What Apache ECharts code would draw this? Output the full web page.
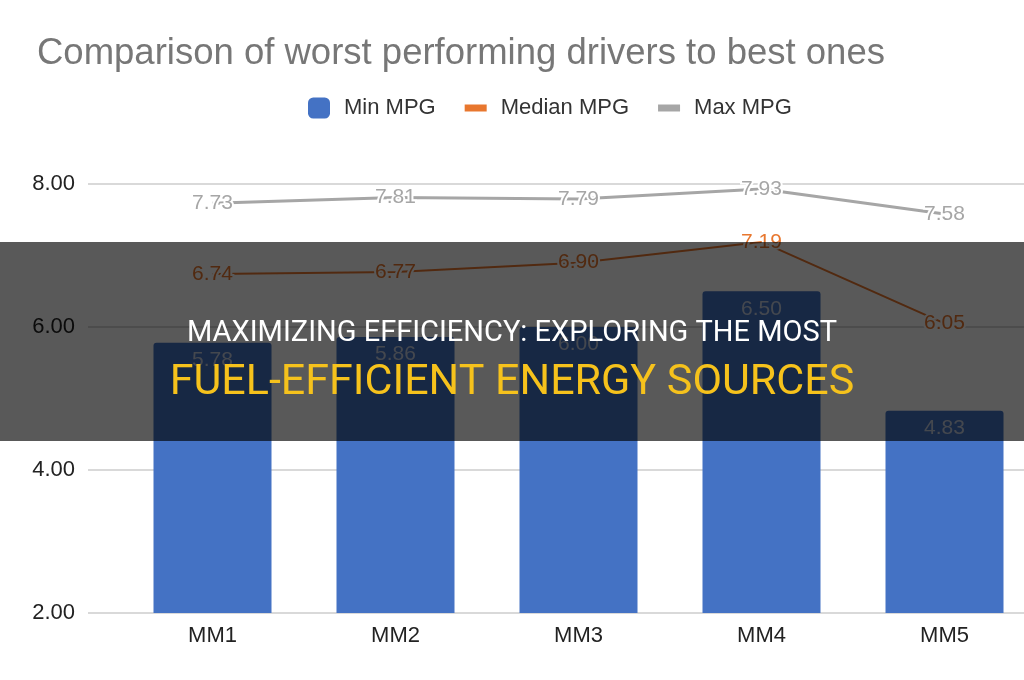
<!DOCTYPE html>
<html>
<head>
<meta charset="utf-8">
<script src="https://cdn.jsdelivr.net/npm/echarts@6/dist/echarts.min.js"></script>
<style>
html, body { margin: 0; padding: 0; background: #fff; }
#chart { width: 1024px; height: 680px; }
</style>
</head>
<body>
<div id="chart"></div>
<script>
(function(){

var categories = ['MM1', 'MM2', 'MM3', 'MM4', 'MM5'];
var minMpg = [5.78, 5.86, 6.00, 6.50, 4.83];
var medianMpg = [6.74, 6.77, 6.90, 7.19, 6.05];
var maxMpg = [7.73, 7.81, 7.79, 7.93, 7.58];
var yTicks = [2, 4, 6, 8];

var chart = echarts.init(document.getElementById('chart'));
var font = 'Liberation Sans, Arial, sans-serif';

function lineLabel(color) {
    return {
        show: true,
        position: 'inside',
        fontFamily: font,
        fontSize: 21,
        color: color,
        textBorderColor: '#fff',
        textBorderWidth: 4,
        formatter: function (p) { return p.value.toFixed(2); }
    };
}

var option = {
    animation: false,
    title: {
        text: 'Comparison of worst performing drivers to best ones',
        left: 32,
        top: 30,
        textStyle: { fontFamily: font, fontSize: 36.5, fontWeight: 'normal', color: '#777' }
    },
    legend: {
        top: 92,
        left: 303,
        itemWidth: 22,
        itemHeight: 21,
        itemGap: 29,
        textStyle: { fontFamily: font, fontSize: 22, color: '#333', padding: [0, 0, 0, 9] },
        data: [
            { name: 'Min MPG', icon: 'roundRect' },
            { name: 'Median MPG', icon: 'path://M0,0 L22,0 L22,7 L0,7 Z' },
            { name: 'Max MPG', icon: 'path://M0,0 L22,0 L22,7 L0,7 Z' }
        ]
    },
    grid: [
        { left: 121, top: 184, width: 915, bottom: 67, outerBoundsMode: 'none' },
        { left: 88, top: 184, right: 0, bottom: 67, outerBoundsMode: 'none' }
    ],
    xAxis: [
        {
            type: 'category',
            gridIndex: 0,
            data: categories,
            axisLine: { show: false },
            axisTick: { show: false },
            axisLabel: { fontFamily: font, fontSize: 22, color: '#222', margin: 12 }
        },
        {
            type: 'category',
            gridIndex: 1,
            data: categories,
            show: false
        }
    ],
    yAxis: [
        {
            type: 'value',
            gridIndex: 0,
            min: yTicks[0],
            max: yTicks[yTicks.length - 1],
            interval: 2,
            axisLabel: { show: false },
            splitLine: { show: false }
        },
        {
            type: 'value',
            gridIndex: 1,
            min: yTicks[0],
            max: yTicks[yTicks.length - 1],
            interval: 2,
            axisLabel: {
                fontFamily: font, fontSize: 22, color: '#222', margin: 13,
                formatter: function (v) { return v.toFixed(2); }
            },
            splitLine: { lineStyle: { color: '#d9d9d9', width: 2 } }
        }
    ],
    series: [
        {
            name: 'Min MPG',
            type: 'bar',
            data: minMpg,
            barWidth: 118,
            itemStyle: { color: '#4472c4', borderRadius: [3, 3, 0, 0] },
            label: {
                show: true,
                position: 'insideTop',
                distance: 7,
                fontFamily: font,
                fontSize: 21,
                color: '#c3cde0',
                formatter: function (p) { return p.value.toFixed(2); }
            },
            z: 2
        },
        {
            name: 'Median MPG',
            type: 'line',
            data: medianMpg,
            symbol: 'circle',
            symbolSize: 0,
            lineStyle: { color: '#e8772e', width: 2 },
            itemStyle: { color: '#e8772e' },
            label: lineLabel('#e8772e'),
            z: 3
        },
        {
            name: 'Max MPG',
            type: 'line',
            data: maxMpg,
            symbol: 'circle',
            symbolSize: 0,
            lineStyle: { color: '#a6a6a6', width: 3 },
            itemStyle: { color: '#a6a6a6' },
            label: lineLabel('#a6a6a6'),
            z: 3
        }
    ],
    graphic: [
        {
            type: 'rect',
            z: 100,
            shape: { x: 0, y: 242, width: 1024, height: 199 },
            style: { fill: 'rgba(0,0,0,0.65)' }
        },
        {
            type: 'text',
            z: 101,
            x: 512,
            y: 334,
            style: {
                text: 'MAXIMIZING EFFICIENCY: EXPLORING THE MOST',
                fill: '#fff',
                font: '29px Roboto, sans-serif',
                textAlign: 'center',
                textVerticalAlign: 'middle'
            }
        },
        {
            type: 'text',
            z: 101,
            x: 512,
            y: 383,
            style: {
                text: 'FUEL-EFFICIENT ENERGY SOURCES',
                fill: '#f6c21c',
                font: '43px Roboto, sans-serif',
                textAlign: 'center',
                textVerticalAlign: 'middle'
            }
        }
    ]
};

chart.setOption(option);

})();
</script>
</body>
</html>
